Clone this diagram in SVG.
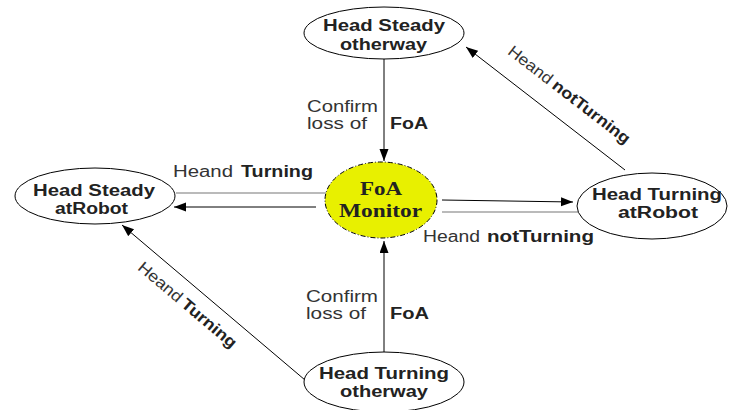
<svg xmlns="http://www.w3.org/2000/svg" width="729" height="410" viewBox="0 0 729 410">
<defs>
<style>
.node{fill:#fff;stroke:#000;stroke-width:1}
.nt{font-family:"Liberation Sans",Arial,sans-serif;font-weight:bold;font-size:16px;fill:#222}
.lb{font-family:"Liberation Sans",Arial,sans-serif;font-size:16px;fill:#333}
.lbb{font-family:"Liberation Sans",Arial,sans-serif;font-size:16px;font-weight:bold;fill:#222}
.ser{font-family:"Liberation Serif","DejaVu Serif",serif;font-weight:bold;font-size:18px;fill:#222}
.ed{fill:none;stroke:#000;stroke-width:1}
.gr{fill:none;stroke:#777;stroke-width:1.2}
</style>
<marker id="ar" markerUnits="userSpaceOnUse" markerWidth="13" markerHeight="10" refX="12" refY="4.5" orient="auto">
<path d="M0,0 L12,4.5 L0,9 z" fill="#000"/>
</marker>
</defs>
<rect width="729" height="410" fill="#fff"/>
<g id="connectors">
<line class="ed" x1="384" y1="59" x2="384" y2="161" marker-end="url(#ar)"/>
<line class="ed" x1="384" y1="352" x2="384" y2="241" marker-end="url(#ar)"/>
<line class="gr" x1="176" y1="193" x2="326" y2="193"/>
<line class="ed" x1="316" y1="207" x2="174" y2="207" marker-end="url(#ar)"/>
<line class="ed" x1="442" y1="200" x2="573" y2="202" marker-end="url(#ar)"/>
<line class="gr" x1="442" y1="212" x2="578" y2="212"/>
<line class="ed" x1="625" y1="170" x2="466" y2="47" marker-end="url(#ar)"/>
<line class="ed" x1="305" y1="380" x2="122" y2="225" marker-end="url(#ar)"/>
<text class="lb" x="173" y="177" textLength="60" lengthAdjust="spacingAndGlyphs">Heand</text>
<text class="lbb" x="241" y="177" textLength="72" lengthAdjust="spacingAndGlyphs">Turning</text>
<text class="lb" x="423" y="242" textLength="57" lengthAdjust="spacingAndGlyphs">Heand</text>
<text class="lbb" x="487" y="242" textLength="107" lengthAdjust="spacingAndGlyphs">notTurning</text>
<text class="lb" x="307" y="112" textLength="71" lengthAdjust="spacingAndGlyphs">Confirm</text>
<text class="lb" x="307" y="129" textLength="60" lengthAdjust="spacingAndGlyphs">loss of</text>
<text class="lbb" x="390" y="129" textLength="38" lengthAdjust="spacingAndGlyphs">FoA</text>
<text class="lb" x="306" y="302" textLength="72" lengthAdjust="spacingAndGlyphs">Confirm</text>
<text class="lb" x="306" y="319" textLength="60" lengthAdjust="spacingAndGlyphs">loss of</text>
<text class="lbb" x="390" y="319" textLength="39" lengthAdjust="spacingAndGlyphs">FoA</text>
<g transform="translate(566,99) rotate(37.7)">
<text class="lb" x="-75" y="0" textLength="52" lengthAdjust="spacingAndGlyphs">Heand</text>
<text class="lbb" x="-19" y="0" textLength="94" lengthAdjust="spacingAndGlyphs">notTurning</text>
</g>
<g transform="translate(184,309) rotate(40.3)">
<text class="lb" x="-62" y="0" textLength="53" lengthAdjust="spacingAndGlyphs">Heand</text>
<text class="lbb" x="-5" y="0" textLength="67" lengthAdjust="spacingAndGlyphs">Turning</text>
</g>
</g>
<g id="head-steady-otherway">
<ellipse class="node" cx="384" cy="33" rx="80" ry="26"/>
<text class="nt" x="323" y="31" textLength="122" lengthAdjust="spacingAndGlyphs">Head Steady</text>
<text class="nt" x="340" y="50" textLength="87" lengthAdjust="spacingAndGlyphs">otherway</text>
</g>
<g id="head-steady-atrobot">
<ellipse class="node" cx="95" cy="196" rx="80" ry="28"/>
<text class="nt" x="33" y="196" textLength="122" lengthAdjust="spacingAndGlyphs">Head Steady</text>
<text class="nt" x="55" y="214" textLength="73" lengthAdjust="spacingAndGlyphs">atRobot</text>
</g>
<g id="foa-monitor">
<ellipse cx="381" cy="200" rx="56" ry="38" fill="#e8f000" stroke="#000" stroke-width="1" stroke-dasharray="5 2 1 2"/>
<text class="ser" x="360" y="195" textLength="42" lengthAdjust="spacingAndGlyphs">FoA</text>
<text class="ser" x="339" y="217" textLength="83" lengthAdjust="spacingAndGlyphs">Monitor</text>
</g>
<g id="head-turning-atrobot">
<ellipse class="node" cx="652" cy="206" rx="75" ry="33"/>
<text class="nt" x="592" y="200" textLength="130" lengthAdjust="spacingAndGlyphs">Head Turning</text>
<text class="nt" x="618" y="218" textLength="80" lengthAdjust="spacingAndGlyphs">atRobot</text>
</g>
<g id="head-turning-otherway">
<ellipse class="node" cx="384" cy="382" rx="80" ry="30"/>
<text class="nt" x="319" y="379" textLength="130" lengthAdjust="spacingAndGlyphs">Head Turning</text>
<text class="nt" x="340" y="397" textLength="88" lengthAdjust="spacingAndGlyphs">otherway</text>
</g>
</svg>
